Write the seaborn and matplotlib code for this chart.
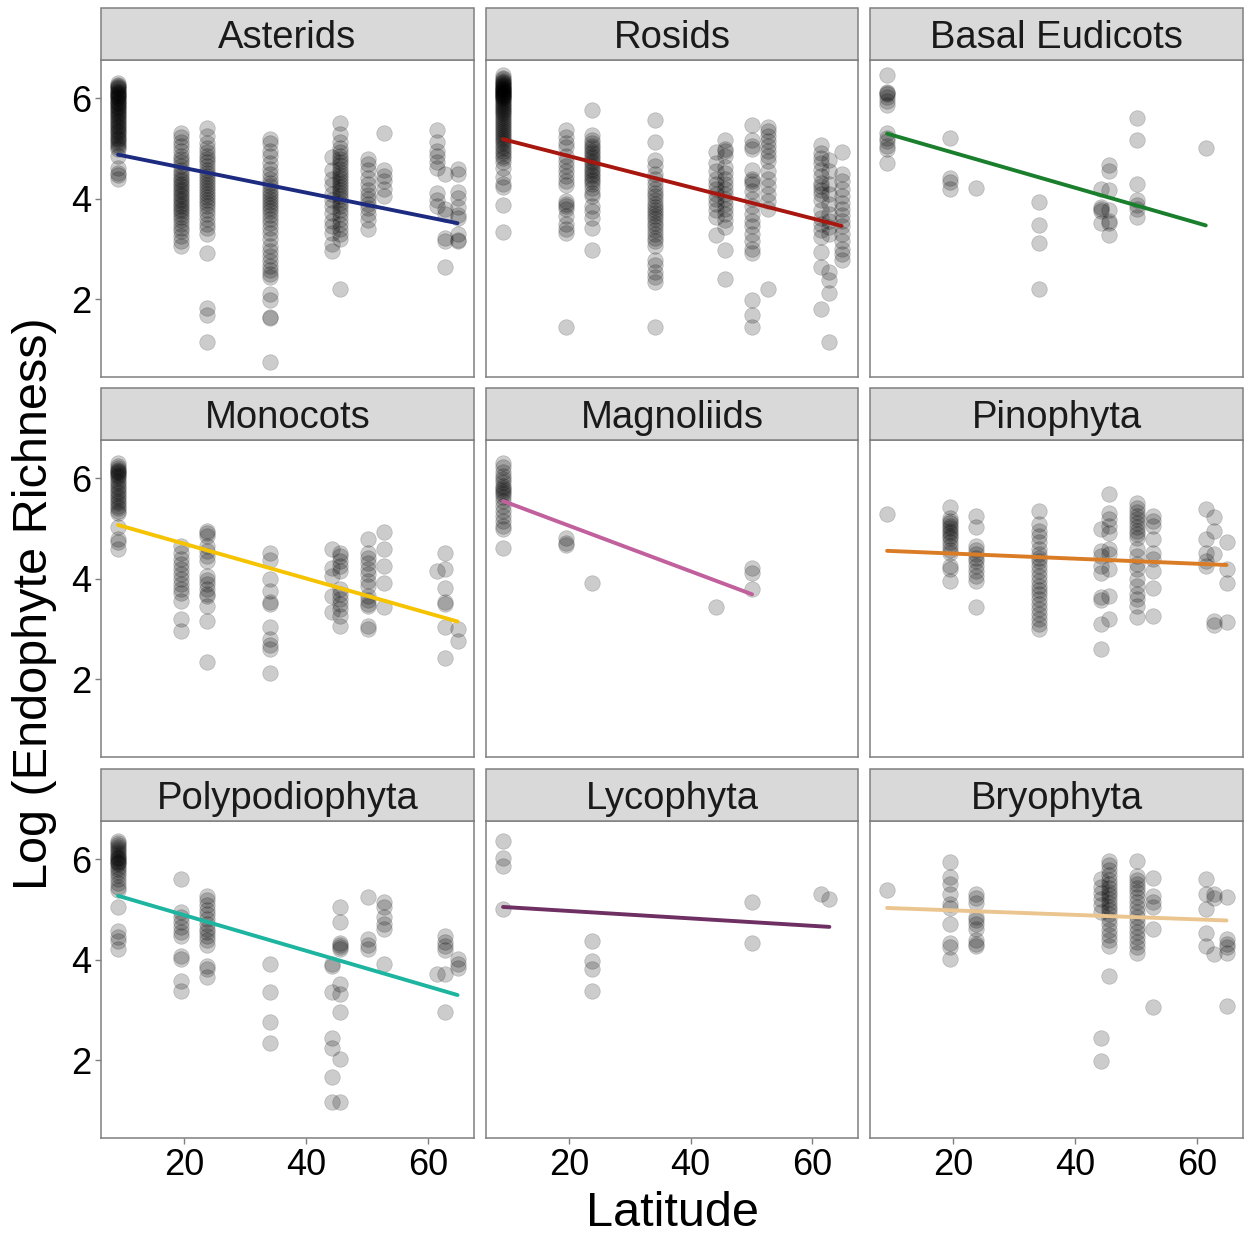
import matplotlib
matplotlib.use("Agg")
import matplotlib.pyplot as plt
from matplotlib.patches import Rectangle
import pandas as pd
import seaborn as sns

# Latitudes of the sampling sites (degrees)
lat_sites = [9.2, 19.5, 23.8, 34.1, 44.2, 45.6, 50.1, 52.7, 61.4, 62.8, 64.8]

clades = ["Asterids", "Rosids", "Basal Eudicots",
          "Monocots", "Magnoliids", "Pinophyta",
          "Polypodiophyta", "Lycophyta", "Bryophyta"]

line_colors = ["#1C2B80", "#A8170F", "#1A7F2C",
               "#F6C300", "#C2609E", "#DA7C26",
               "#1DB5A0", "#6E2F63", "#EBC590"]

# log endophyte richness per site latitude
asterids = {
    9.2: [6.30, 6.27, 6.24, 6.22, 6.20, 6.18, 6.15, 6.13, 6.11, 6.09, 6.06, 6.04,
          6.02, 6.00, 5.98, 5.95, 5.93, 5.90, 5.88, 5.85, 5.82, 5.80, 5.77, 5.74,
          5.71, 5.68, 5.65, 5.62, 5.58, 5.55, 5.52, 5.48, 5.45, 5.42, 5.38, 5.35,
          5.32, 5.28, 5.25, 5.21, 5.18, 5.14, 5.10, 5.06, 5.02, 4.98, 4.85, 4.62,
          4.52, 4.48, 4.40],
    19.5: [5.30, 5.22, 5.12, 5.05, 4.95, 4.85, 4.78, 4.72, 4.65, 4.58, 4.52, 4.46,
           4.40, 4.35, 4.30, 4.25, 4.20, 4.15, 4.10, 4.05, 4.00, 3.95, 3.90, 3.85,
           3.80, 3.75, 3.70, 3.64, 3.58, 3.50, 3.42, 3.35, 3.25, 3.15, 3.05],
    23.8: [5.40, 5.25, 5.10, 5.00, 4.92, 4.85, 4.78, 4.72, 4.65, 4.58, 4.52, 4.46,
           4.40, 4.34, 4.28, 4.22, 4.16, 4.10, 4.04, 3.98, 3.92, 3.85, 3.78, 3.70,
           3.60, 3.50, 3.42, 3.30, 2.92, 1.82, 1.68, 1.15],
    34.1: [5.18, 5.10, 4.95, 4.85, 4.70, 4.60, 4.50, 4.40, 4.32, 4.25, 4.18, 4.12,
           4.06, 4.00, 3.94, 3.88, 3.82, 3.75, 3.68, 3.60, 3.52, 3.42, 3.32, 3.20,
           3.05, 2.95, 2.85, 2.75, 2.65, 2.58, 2.50, 2.44, 2.10, 1.98, 1.65, 1.63,
           0.75],
    44.2: [4.82, 4.58, 4.40, 4.27, 4.10, 3.98, 3.85, 3.72, 3.55, 3.45, 3.32, 3.10,
           2.95],
    45.6: [5.50, 5.28, 5.12, 5.00, 4.92, 4.85, 4.78, 4.72, 4.66, 4.60, 4.54, 4.48,
           4.42, 4.36, 4.30, 4.24, 4.18, 4.12, 4.06, 4.00, 3.92, 3.85, 3.78, 3.70,
           3.60, 3.50, 3.40, 3.30, 3.20, 2.21],
    50.1: [4.78, 4.68, 4.57, 4.42, 4.30, 4.18, 4.08, 4.00, 3.90, 3.82, 3.70, 3.58,
           3.40],
    52.7: [5.30, 4.57, 4.45, 4.35, 4.20, 4.05],
    61.4: [5.36, 5.13, 4.95, 4.85, 4.72, 4.62, 4.12, 3.97, 3.86],
    62.8: [4.50, 3.80, 3.70, 3.22, 3.15, 2.64],
    64.8: [4.60, 4.50, 4.14, 4.02, 3.84, 3.68, 3.62, 3.30, 3.18, 3.15],
}

rosids = {
    9.2: [6.46, 6.40, 6.38, 6.35, 6.33, 6.31, 6.29, 6.27, 6.25, 6.23, 6.21, 6.19,
          6.18, 6.16, 6.15, 6.13, 6.12, 6.10, 6.09, 6.07, 6.06, 6.04, 6.03, 6.01,
          6.00, 5.97, 5.94, 5.91, 5.88, 5.85, 5.82, 5.79, 5.76, 5.73, 5.70, 5.66,
          5.62, 5.58, 5.54, 5.50, 5.46, 5.42, 5.38, 5.34, 5.30, 5.26, 5.22, 5.18,
          5.14, 5.10, 5.05, 5.00, 4.95, 4.90, 4.85, 4.80, 4.72, 4.62, 4.43, 4.30,
          4.24, 3.87, 3.34],
    19.5: [5.36, 5.22, 5.10, 5.02, 4.85, 4.75, 4.65, 4.55, 4.45, 4.35, 4.28, 3.95,
           3.90, 3.85, 3.80, 3.65, 3.50, 3.40, 3.32, 1.45],
    23.8: [5.76, 5.26, 5.16, 5.10, 5.05, 5.00, 4.95, 4.90, 4.85, 4.80, 4.75, 4.70,
           4.65, 4.60, 4.55, 4.50, 4.45, 4.40, 4.35, 4.30, 4.22, 4.12, 4.05, 3.85,
           3.75, 3.62, 3.41, 2.97],
    34.1: [5.56, 5.13, 4.77, 4.65, 4.50, 4.40, 4.30, 4.20, 4.12, 4.05, 3.98, 3.90,
           3.84, 3.78, 3.72, 3.66, 3.60, 3.52, 3.45, 3.38, 3.30, 3.22, 3.15, 3.05,
           2.78, 2.68, 2.55, 2.45, 2.35, 1.45],
    44.2: [4.93, 4.70, 4.55, 4.40, 4.30, 4.20, 4.10, 4.00, 3.90, 3.78, 3.64, 3.27],
    45.6: [5.16, 4.99, 4.95, 4.85, 4.63, 4.52, 4.40, 4.30, 4.20, 4.10, 4.00, 3.90,
           3.80, 3.70, 3.58, 3.44, 2.97, 2.41],
    50.1: [5.46, 5.16, 5.05, 4.99, 4.57, 4.40, 4.35, 4.30, 4.15, 4.00, 3.85, 3.70,
           3.55, 3.45, 3.30, 3.15, 3.00, 2.91, 1.98, 1.68, 1.45],
    52.7: [5.43, 5.35, 5.25, 5.15, 5.05, 4.95, 4.85, 4.75, 4.55, 4.40, 4.25, 4.10,
           3.95, 3.80, 2.21],
    61.4: [5.06, 4.90, 4.80, 4.70, 4.58, 4.45, 4.32, 4.25, 4.18, 4.10, 3.98, 3.77,
           3.62, 3.50, 3.38, 3.24, 2.94, 2.64, 1.81],
    62.8: [4.77, 4.55, 4.30, 4.10, 3.90, 3.70, 3.55, 3.44, 3.30, 2.55, 2.38, 2.12,
           1.15],
    64.8: [4.93, 4.50, 4.35, 4.20, 4.05, 3.92, 3.80, 3.68, 3.55, 3.45, 3.30, 3.15,
           3.00, 2.90, 2.78],
}

basal_eudicots = {
    9.2: [6.46, 6.13, 6.10, 6.08, 6.03, 5.95, 5.87, 5.30, 5.20, 5.15, 5.05, 4.98,
          4.70],
    19.5: [5.20, 4.42, 4.33, 4.20],
    23.8: [4.22],
    34.1: [3.94, 3.47, 3.11, 2.21],
    44.2: [4.20, 3.84, 3.80, 3.75, 3.51],
    45.6: [4.67, 4.55, 4.17, 3.77, 3.55, 3.52, 3.27],
    50.1: [5.60, 5.16, 4.30, 3.97, 3.88, 3.80, 3.64],
    61.4: [5.00],
}

monocots = {
    9.2: [6.31, 6.24, 6.20, 6.17, 6.15, 6.12, 6.10, 6.07, 6.05, 6.00, 5.95, 5.90,
          5.85, 5.80, 5.75, 5.70, 5.65, 5.60, 5.55, 5.50, 5.45, 5.40, 5.35, 5.30,
          5.02, 4.79, 4.72, 4.60],
    19.5: [4.65, 4.52, 4.40, 4.30, 4.20, 4.10, 4.00, 3.90, 3.80, 3.72, 3.56, 3.19,
           2.96],
    23.8: [4.95, 4.90, 4.85, 4.65, 4.55, 4.45, 4.35, 4.06, 3.98, 3.90, 3.80, 3.70,
           3.66, 3.46, 3.16, 2.34],
    34.1: [4.52, 4.38, 3.99, 3.75, 3.53, 3.50, 3.03, 2.79, 2.68, 2.59, 2.13],
    44.2: [4.59, 4.22, 4.06, 3.66, 3.33],
    45.6: [4.52, 4.45, 4.35, 4.25, 4.15, 3.80, 3.70, 3.60, 3.50, 3.40, 3.25, 3.06],
    50.1: [4.79, 4.52, 4.42, 4.32, 4.20, 4.10, 3.95, 3.86, 3.66, 3.58, 3.50, 3.46,
           3.06, 2.99],
    52.7: [4.92, 4.59, 4.25, 3.92, 3.43],
    61.4: [4.15],
    62.8: [4.52, 4.19, 3.82, 3.53, 3.50, 3.03, 2.43],
    64.8: [3.00, 2.76],
}

magnoliids = {
    9.2: [6.30, 6.22, 6.12, 6.05, 5.98, 5.92, 5.85, 5.80, 5.76, 5.72, 5.68, 5.62,
          5.55, 5.45, 5.35, 5.25, 5.15, 5.05, 4.98, 4.62],
    19.5: [4.80, 4.70, 4.66],
    23.8: [3.92],
    44.2: [3.43],
    50.1: [4.22, 4.12, 3.79],
}

pinophyta = {
    9.2: [5.28],
    19.5: [5.42, 5.20, 5.15, 5.10, 5.05, 5.00, 4.95, 4.90, 4.85, 4.80, 4.72, 4.65,
           4.58, 4.52, 4.26, 4.20, 3.96],
    23.8: [5.25, 5.02, 4.65, 4.58, 4.50, 4.42, 4.35, 4.25, 4.15, 4.05, 3.95, 3.43],
    34.1: [5.35, 5.08, 4.95, 4.85, 4.72, 4.60, 4.50, 4.42, 4.35, 4.25, 4.15, 4.05,
           3.95, 3.85, 3.78, 3.70, 3.60, 3.50, 3.40, 3.30, 3.20, 3.10, 3.00],
    44.2: [4.98, 4.55, 4.45, 4.26, 4.12, 3.63, 3.58, 3.09, 2.60],
    45.6: [5.68, 5.31, 5.18, 5.05, 4.90, 4.59, 4.50, 4.19, 3.66, 3.19],
    50.1: [5.51, 5.40, 5.32, 5.25, 5.18, 5.10, 5.02, 4.95, 4.88, 4.80, 4.59, 4.45,
           4.30, 4.19, 3.99, 3.85, 3.70, 3.60, 3.46, 3.23],
    52.7: [5.25, 5.15, 5.05, 4.79, 4.52, 4.39, 4.15, 3.82, 3.26],
    61.4: [5.38, 4.79, 4.52, 4.35, 4.26],
    62.8: [5.22, 4.95, 4.49, 3.16, 3.08],
    64.8: [4.72, 4.19, 3.92, 3.13],
}

polypodiophyta = {
    9.2: [6.36, 6.32, 6.28, 6.24, 6.20, 6.16, 6.12, 6.08, 6.05, 6.02, 6.00, 5.97,
          5.95, 5.92, 5.90, 5.85, 5.80, 5.75, 5.68, 5.60, 5.52, 5.45, 5.38, 5.04,
          4.57, 4.45, 4.38, 4.22],
    19.5: [5.61, 4.94, 4.85, 4.75, 4.65, 4.55, 4.47, 4.08, 4.01, 3.58, 3.38],
    23.8: [5.27, 5.18, 5.08, 4.98, 4.90, 4.80, 4.70, 4.62, 4.55, 4.48, 4.40, 4.30,
           3.88, 3.82, 3.65],
    34.1: [3.91, 3.35, 2.75, 2.35],
    44.2: [3.91, 3.88, 3.35, 2.45, 2.25, 1.66, 1.16],
    45.6: [5.04, 4.74, 4.34, 4.30, 4.26, 4.22, 3.51, 3.31, 2.95, 2.02, 1.16],
    50.1: [5.24, 4.41, 4.30, 4.21],
    52.7: [5.14, 5.05, 4.85, 4.70, 4.61, 3.91],
    61.4: [3.71],
    62.8: [4.47, 4.35, 4.28, 4.20, 3.71, 2.95],
    64.8: [4.01, 3.92, 3.84],
}

lycophyta = {
    9.2: [6.36, 6.03, 5.87, 5.00],
    23.8: [4.37, 3.98, 3.81, 3.38],
    50.1: [5.14, 4.33],
    61.4: [5.30],
    62.8: [5.20],
}

bryophyta = {
    9.2: [5.39],
    19.5: [5.95, 5.65, 5.50, 5.30, 5.10, 5.02, 4.71, 4.34, 4.25, 4.01],
    23.8: [5.30, 5.22, 5.12, 4.85, 4.78, 4.70, 4.62, 4.40, 4.32, 4.27],
    44.2: [5.60, 5.45, 5.32, 5.20, 5.08, 4.95, 2.45, 1.99],
    45.6: [5.97, 5.88, 5.78, 5.68, 5.58, 5.50, 5.42, 5.35, 5.28, 5.20, 5.12, 5.05,
           4.98, 4.90, 4.80, 4.70, 4.60, 4.50, 4.40, 4.28, 3.68],
    50.1: [5.97, 5.67, 5.58, 5.50, 5.42, 5.35, 5.25, 5.15, 5.05, 4.95, 4.85, 4.75,
           4.65, 4.55, 4.45, 4.35, 4.25, 4.14],
    52.7: [5.63, 5.27, 5.15, 5.05, 4.61, 3.05],
    61.4: [5.60, 5.30, 5.00, 4.54, 4.27],
    62.8: [5.30, 5.22, 4.11],
    64.8: [5.24, 4.41, 4.32, 4.25, 4.14, 3.08],
}

clade_data = [asterids, rosids, basal_eudicots, monocots, magnoliids,
              pinophyta, polypodiophyta, lycophyta, bryophyta]

rows = []
for name, d in zip(clades, clade_data):
    for lat, vals in d.items():
        for v in vals:
            rows.append({"clade": name, "Latitude": lat, "richness": v})
df = pd.DataFrame(rows)

sns.set_theme(style="white")
plt.rcParams["font.family"] = ["Liberation Sans", "DejaVu Sans"]

W, H = 1245, 1237
fig = plt.figure(figsize=(W / 100, H / 100), dpi=100)

col_x = [(101, 474), (486, 858), (870, 1243)]
row_y = [(60, 377), (440, 757), (821, 1138)]
strip_h = 52
frame_col = "#7F7F7F"

for i, (name, color) in enumerate(zip(clades, line_colors)):
    r, c = divmod(i, 3)
    x0, x1 = col_x[c]
    y0, y1 = row_y[r]
    ph = y1 - y0
    ax = fig.add_axes([x0 / W, (H - y1) / H, (x1 - x0) / W, ph / H])
    sub = df[df["clade"] == name]

    sns.scatterplot(data=sub, x="Latitude", y="richness", ax=ax,
                    color="black", alpha=0.2, s=125,
                    edgecolor="black", linewidth=0.5, legend=False, zorder=2)
    sns.regplot(data=sub, x="Latitude", y="richness", ax=ax,
                scatter=False, ci=None, color=color,
                line_kws={"lw": 2.8, "zorder": 3})

    ax.set_xlim(6.4, 67.5)
    ax.set_ylim(0.45, 6.76)
    ax.set_xticks([20, 40, 60])
    ax.set_yticks([2, 4, 6])
    ax.set_xlabel("")
    ax.set_ylabel("")
    for sp in ax.spines.values():
        sp.set_color(frame_col)
        sp.set_linewidth(1.1)
    ax.tick_params(axis="both", which="both", length=4, width=1,
                   color=frame_col, labelsize=26, pad=3, labelcolor="black")
    ax.tick_params(axis="x", bottom=(r == 2), labelbottom=(r == 2))
    ax.tick_params(axis="y", left=(c == 0), labelleft=(c == 0))

    # facet strip
    sh = strip_h / ph
    ax.add_patch(Rectangle((0, 1), 1, sh, transform=ax.transAxes,
                           facecolor="#D9D9D9", edgecolor=frame_col,
                           linewidth=1.1, clip_on=False, zorder=5))
    ax.text(0.5, 1 + 12 / ph, name, transform=ax.transAxes, ha="center",
            va="baseline", fontsize=27.5, color="#1A1A1A", zorder=6)

fig.text(672 / W, 1 - 1213 / H, "Latitude", ha="center", va="center",
         fontsize=35, color="black")
fig.text(35 / W, 1 - 604 / H, "Log (Endophyte Richness)", ha="center",
         va="center", rotation=90, fontsize=35, color="black")

fig.savefig("out.png", dpi=100)
